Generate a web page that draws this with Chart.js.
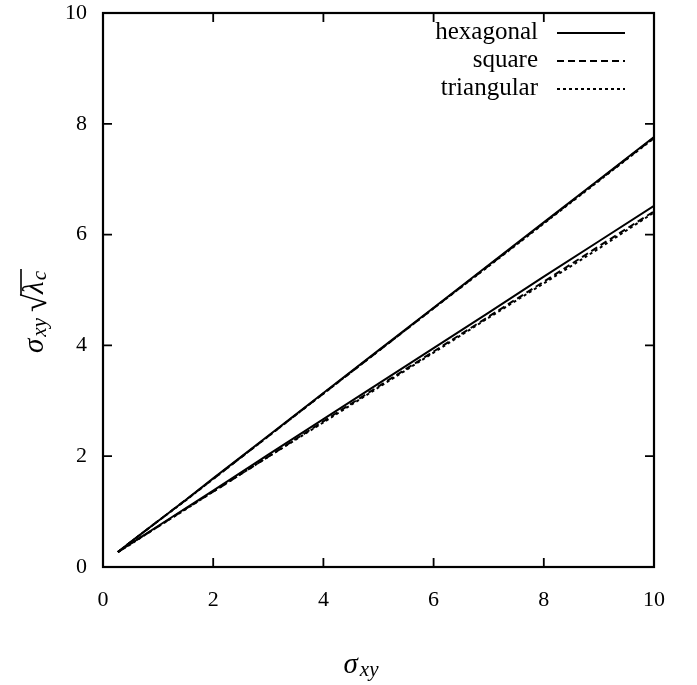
<!DOCTYPE html>
<html>
<head>
<meta charset="utf-8">
<script src="https://cdn.jsdelivr.net/npm/chart.js@4/dist/chart.umd.min.js"></script>
<style>
html,body{margin:0;padding:0;background:#fff;}
#wrap{width:697px;height:685px;position:relative;}
</style>
</head>
<body>
<div id="wrap"><canvas id="c" width="697" height="685"></canvas></div>
<script>
// ---- data ----
const xValues = [0.27, 0.5, 1, 1.5, 2, 3, 4, 5, 6, 7, 8, 9, 10];
const hexUpper = [0.27, 0.45, 0.83, 1.21, 1.60, 2.37, 3.14, 3.91, 4.68, 5.45, 6.22, 6.99, 7.76];
const squareUpper = [0.27, 0.45, 0.83, 1.21, 1.59, 2.36, 3.13, 3.90, 4.67, 5.44, 6.21, 6.98, 7.75];
const triUpper = [0.27, 0.45, 0.83, 1.20, 1.59, 2.36, 3.13, 3.90, 4.67, 5.43, 6.20, 6.97, 7.74];
const hexLower = [0.27, 0.42, 0.74, 1.06, 1.38, 2.03, 2.67, 3.31, 3.95, 4.59, 5.24, 5.88, 6.52];
const squareLower = [0.27, 0.42, 0.73, 1.05, 1.36, 1.99, 2.63, 3.26, 3.89, 4.52, 5.15, 5.79, 6.42];
const triLower = [0.27, 0.41, 0.73, 1.04, 1.36, 1.99, 2.61, 3.24, 3.87, 4.50, 5.12, 5.75, 6.40];
const seriesNames = ['hexagonal', 'square', 'triangular'];
const xTicks = [0, 2, 4, 6, 8, 10];
const yTicks = [0, 2, 4, 6, 8, 10];

const pts = ys => xValues.map((x, i) => ({x: x, y: ys[i]}));
const dashes = [[], [7, 4], [3, 3]];
const style = k => ({borderColor: '#000', borderWidth: 2, borderDash: dashes[k], pointRadius: 0, fill: false, tension: 0});

const datasets = [
  Object.assign({label: seriesNames[0], data: pts(hexUpper)}, style(0)),
  Object.assign({label: seriesNames[1], data: pts(squareUpper)}, style(1)),
  Object.assign({label: seriesNames[2], data: pts(triUpper)}, style(2)),
  Object.assign({label: seriesNames[0] + ' ', data: pts(hexLower)}, style(0)),
  Object.assign({label: seriesNames[1] + ' ', data: pts(squareLower)}, style(1)),
  Object.assign({label: seriesNames[2] + ' ', data: pts(triLower)}, style(2)),
];

const SERIF = '"Liberation Serif", "DejaVu Serif", serif';
const BIG = 'italic 29px ' + SERIF;
const SUB = 'italic 21px ' + SERIF;

const framePlugin = {
  id: 'frame',
  afterDatasetsDraw(chart) {
    const ctx = chart.ctx, a = chart.chartArea;
    const xs = chart.scales.x, ys = chart.scales.y;
    ctx.save();
    ctx.strokeStyle = '#000';
    ctx.lineWidth = 2.2;
    ctx.setLineDash([]);
    ctx.strokeRect(a.left, a.top, a.right - a.left, a.bottom - a.top);
    const L = 9;
    ctx.lineWidth = 1.8;
    ctx.beginPath();
    xTicks.forEach(v => {
      const p = xs.getPixelForValue(v);
      ctx.moveTo(p, a.bottom); ctx.lineTo(p, a.bottom - L);
      ctx.moveTo(p, a.top); ctx.lineTo(p, a.top + L);
    });
    yTicks.forEach(v => {
      const p = ys.getPixelForValue(v);
      ctx.moveTo(a.left, p); ctx.lineTo(a.left + L, p);
      ctx.moveTo(a.right, p); ctx.lineTo(a.right - L, p);
    });
    ctx.stroke();

    // legend
    ctx.font = '25px ' + SERIF;
    ctx.fillStyle = '#000';
    ctx.textAlign = 'right';
    ctx.textBaseline = 'middle';
    const rowsY = [33, 61, 89];
    for (let k = 0; k < 3; k++) {
      const ds = chart.data.datasets[k];
      ctx.fillText(ds.label, 538, rowsY[k] - 1);
      ctx.beginPath();
      ctx.lineWidth = 2;
      ctx.setLineDash(ds.borderDash);
      ctx.moveTo(557, rowsY[k]);
      ctx.lineTo(625, rowsY[k]);
      ctx.stroke();
    }
    ctx.setLineDash([]);

    // x axis title: sigma_xy
    ctx.textAlign = 'left';
    ctx.textBaseline = 'alphabetic';
    ctx.font = BIG;
    const w1 = ctx.measureText('σ').width;
    ctx.font = SUB;
    const w2 = ctx.measureText('xy').width;
    const cx = 361;
    const x0 = cx - (w1 + 2 + w2) / 2;
    const by = 673;
    ctx.font = BIG;
    ctx.fillText('σ', x0, by);
    ctx.font = SUB;
    ctx.fillText('xy', x0 + w1 + 2, by + 3);

    // y axis title: sigma_xy sqrt(lambda_c)
    ctx.save();
    ctx.translate(35, 311);
    ctx.rotate(-Math.PI / 2);
    ctx.font = BIG;
    const wa = ctx.measureText('σ').width;
    ctx.font = SUB;
    const wb = ctx.measureText('xy').width;
    ctx.font = '33px ' + SERIF;
    const wr = ctx.measureText('√').width;
    ctx.font = BIG;
    const wl = ctx.measureText('λ').width;
    ctx.font = SUB;
    const wc = ctx.measureText('c').width;
    const gap = 6;
    const total = wa + 2 + wb + gap + wr + wl + 1 + wc + 2;
    let px = -total / 2;
    const yb = 8;
    ctx.font = BIG;
    ctx.fillText('σ', px, yb); px += wa + 2;
    ctx.font = SUB;
    ctx.fillText('xy', px, yb + 3); px += wb + gap;
    ctx.font = '33px ' + SERIF;
    ctx.fillText('√', px, yb + 3);
    px += wr;
    const rx = px;
    ctx.font = BIG;
    ctx.fillText('λ', px, yb); px += wl + 1;
    ctx.font = SUB;
    ctx.fillText('c', px, yb + 3); px += wc + 2;
    ctx.lineWidth = 1.6;
    ctx.beginPath();
    ctx.moveTo(rx - 1.5, yb - 22);
    ctx.lineTo(px, yb - 22);
    ctx.stroke();
    ctx.restore();

    ctx.restore();
  }
};

new Chart(document.getElementById('c'), {
  type: 'line',
  data: {datasets: datasets},
  options: {
    responsive: false,
    animation: false,
    events: [],
    layout: {padding: {left: 20, right: 43, top: 13, bottom: 0}},
    plugins: {legend: {display: false}, tooltip: {enabled: false}, title: {display: false}},
    scales: {
      x: {
        type: 'linear', min: 0, max: 10,
        grid: {display: false, drawTicks: false},
        border: {display: false},
        afterBuildTicks: s => { s.ticks = xTicks.map(v => ({value: v})); },
        afterFit: s => { s.height = 685 - 567; s.paddingLeft = 0; s.paddingRight = 0; },
        ticks: {color: '#000', padding: 20, font: {family: SERIF, size: 22}, maxRotation: 0, autoSkip: false}
      },
      y: {
        type: 'linear', min: 0, max: 10,
        grid: {display: false, drawTicks: false},
        border: {display: false},
        afterBuildTicks: s => { s.ticks = yTicks.map(v => ({value: v})); },
        afterFit: s => { s.width = 103 - 20; s.paddingTop = 0; s.paddingBottom = 0; },
        ticks: {color: '#000', padding: 16, font: {family: SERIF, size: 22}, autoSkip: false}
      }
    }
  },
  plugins: [framePlugin]
});
</script>
</body>
</html>
